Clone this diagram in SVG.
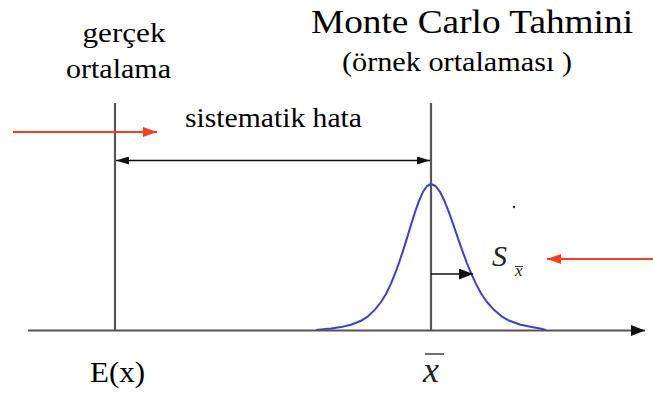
<svg xmlns="http://www.w3.org/2000/svg" width="653" height="394" viewBox="0 0 653 394">
<style>
.t{font-family:"Liberation Serif","Times New Roman","DejaVu Serif",serif;fill:#000;}
.ti{font-family:"Liberation Serif","Times New Roman","DejaVu Serif",serif;font-style:italic;fill:#222;}
.gl{stroke:#555;stroke-width:2.2;fill:none;}
.bk{stroke:#111;stroke-width:1.6;fill:none;}
.rd{stroke:#ff3c1e;stroke-width:2;fill:none;}
</style>
<defs>
<marker id="ah" viewBox="0 0 10 10" refX="10" refY="5" markerWidth="13" markerHeight="8" markerUnits="userSpaceOnUse" orient="auto-start-reverse" preserveAspectRatio="none">
<path d="M0,0 L10,5 L0,10 z" fill="#111"/>
</marker>
<marker id="rh" viewBox="0 0 10 10" refX="10" refY="5" markerWidth="14" markerHeight="10" markerUnits="userSpaceOnUse" orient="auto" preserveAspectRatio="none">
<path d="M0,0 L10,5 L0,10 z" fill="#ff3c1e"/>
</marker>
<marker id="axh" viewBox="0 0 10 10" refX="10" refY="5" markerWidth="14" markerHeight="11" markerUnits="userSpaceOnUse" orient="auto" preserveAspectRatio="none">
<path d="M0,0 L10,5 L0,10 z" fill="#111"/>
</marker>
</defs>
<rect width="653" height="394" fill="#fff"/>
<g id="true-mean">
<line class="gl" x1="115" y1="103" x2="115" y2="330"/>
<text class="t" x="124" y="42" font-size="27" text-anchor="middle" textLength="83" lengthAdjust="spacingAndGlyphs">gerçek</text>
<text class="t" x="118.5" y="78" font-size="27" text-anchor="middle" textLength="105" lengthAdjust="spacingAndGlyphs">ortalama</text>
<text class="t" x="90" y="382" font-size="30" textLength="55" lengthAdjust="spacingAndGlyphs">E(x)</text>
</g>
<g id="mc-estimate">
<line class="gl" x1="431" y1="103" x2="431" y2="330"/>
<text class="t" x="311" y="33" font-size="33" textLength="322" lengthAdjust="spacingAndGlyphs">Monte Carlo Tahmini</text>
<text class="t" x="342" y="71" font-size="28" textLength="230" lengthAdjust="spacingAndGlyphs">(örnek ortalaması )</text>
<text class="ti" x="423" y="382" font-size="36">x</text>
<line x1="425" y1="354" x2="444" y2="354" stroke="#333" stroke-width="1.4"/>
</g>
<g id="distribution">
<path d="M316,330 L331,328.4 L341,327.1 L351,324.8 L361,320.8 L368,316.3 L375,309.6 L381,302 L386,294 L391,283.6 L395,273.7 L399,262.8 L403,250.9 L407,238.1 L411,224.9 L415,212.1 L419,200.8 L423,191.8 L427,186 L431,184 L435.5,186 L440,191.8 L444.4,200.8 L448.9,212.1 L453.4,224.9 L457.9,238.1 L462.4,250.9 L466.8,262.8 L471.3,273.7 L475.8,283.6 L481.4,294 L487,302 L493.7,309.6 L501.6,316.3 L509.4,320.8 L520.6,324.8 L531.8,327.1 L540,328.4 L546,330" fill="none" stroke="#3d3ddc" stroke-width="2" stroke-linejoin="round"/>
</g>
<g id="axis">
<line class="gl" x1="28" y1="330.5" x2="645" y2="330.5" stroke="#444" marker-end="url(#axh)"/>
</g>
<g id="sigma-label">
<text class="ti" x="492" y="266" font-size="30">S</text>
<text class="ti" x="515" y="276" font-size="17">x</text>
<line x1="515" y1="266.5" x2="523" y2="266.5" stroke="#333" stroke-width="1"/>
<circle cx="514" cy="207" r="1.2" fill="#222"/>
</g>
<g id="connectors">
<line class="rd" x1="13" y1="132" x2="157" y2="132" marker-end="url(#rh)"/>
<text class="t" x="185" y="127" font-size="27" textLength="177" lengthAdjust="spacingAndGlyphs">sistematik hata</text>
<line class="bk" x1="116" y1="160.5" x2="430" y2="160.5" marker-start="url(#ah)" marker-end="url(#ah)"/>
<line class="bk" x1="431" y1="274" x2="473" y2="274" stroke-width="1.8" marker-end="url(#axh)"/>
<line class="rd" x1="653" y1="259" x2="547" y2="259" marker-end="url(#rh)"/>
</g>
</svg>
